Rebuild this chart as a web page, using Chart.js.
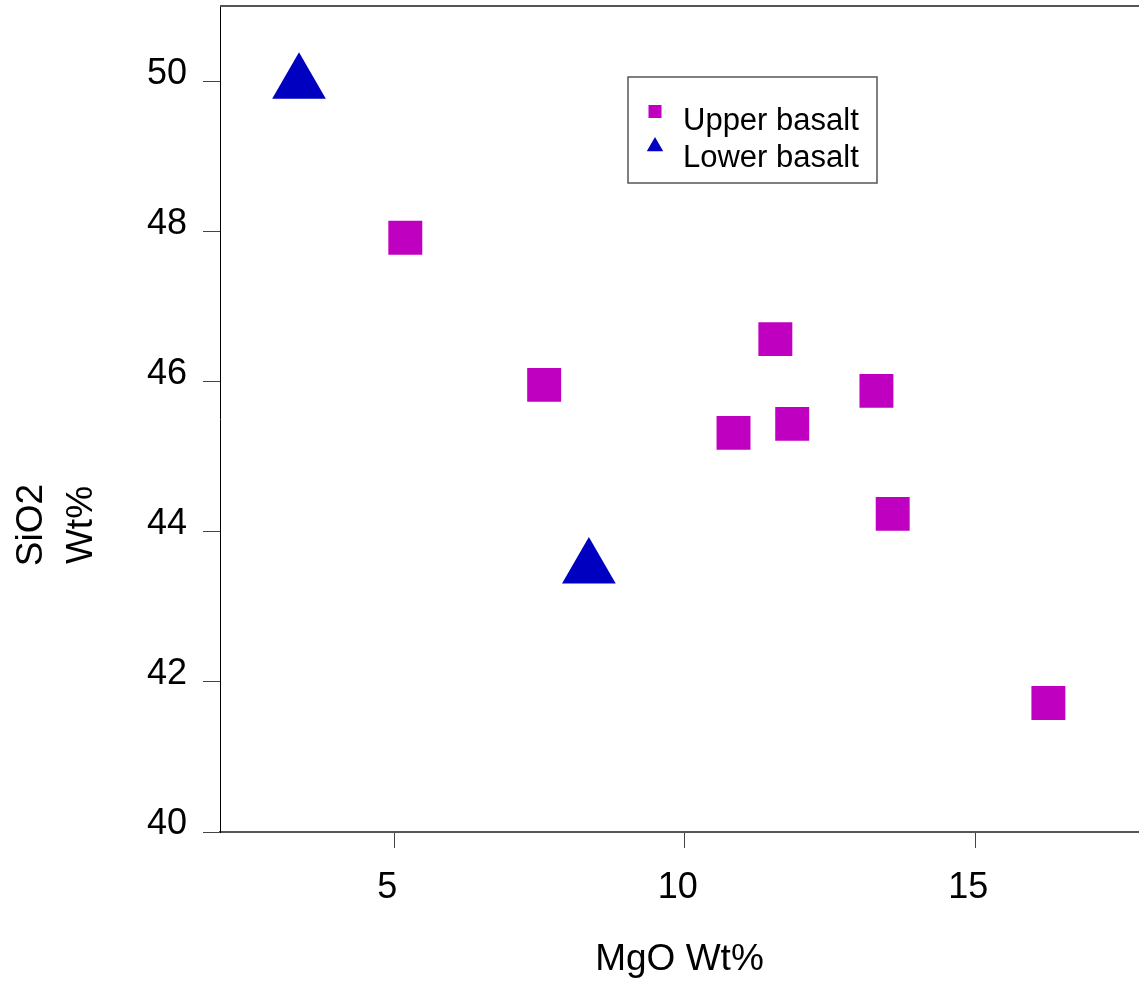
<!DOCTYPE html>
<html>
<head>
<meta charset="utf-8">
<title>SiO2 vs MgO</title>
<script src="https://cdn.jsdelivr.net/npm/chart.js@4.4.1/dist/chart.umd.min.js"></script>
<style>
  html, body { margin:0; padding:0; background:#fff; }
</style>
</head>
<body>
<canvas id="chart" width="1139" height="982"></canvas>
<script>
// —————— DATA ——————
const upperMgO  = [5.19, 7.58, 11.56, 10.84, 11.85, 13.30, 13.58, 16.26];
const upperSiO2 = [47.92, 45.96, 46.57, 45.32, 45.44, 45.88, 44.24, 41.72];
const lowerMgO  = [3.36, 8.35];
const lowerSiO2 = [49.98, 43.52];
const xTicks = [5, 10, 15];
const yTicks = [40, 42, 44, 46, 48, 50];
const seriesNames = ['Upper basalt', 'Lower basalt'];
const xTitle = 'MgO Wt%';
const yTitle = ['SiO2', 'Wt%'];

const FONT = '"Liberation Sans", Arial, Helvetica, sans-serif';
const UPPER_COLOR = '#C000C0';
const LOWER_COLOR = '#0000C0';

function toPoints(xs, ys) {
  return xs.map((x, i) => ({ x: x, y: ys[i] }));
}

// —————— MARKERS (for the legend) ——————
function drawMarker(ctx, style, x, y, r) {
  ctx.beginPath();
  if (style === 'rect') {
    const s = r * Math.SQRT1_2;
    ctx.rect(x - s, y - s, 2 * s, 2 * s);
  } else {
    ctx.moveTo(x, y - r);
    ctx.lineTo(x + r * Math.sin(2 * Math.PI / 3), y + r / 2);
    ctx.lineTo(x - r * Math.sin(2 * Math.PI / 3), y + r / 2);
    ctx.closePath();
  }
  ctx.fill();
}

// —————— FRAME, Y TITLE, LEGEND ——————
const framePlugin = {
  id: 'frame',
  afterDraw(chart) {
    const { ctx, chartArea: a } = chart;
    ctx.save();

    // top border of the plot box
    ctx.strokeStyle = '#555';
    ctx.lineWidth = 2;
    ctx.beginPath();
    ctx.moveTo(a.left, a.top);
    ctx.lineTo(a.right, a.top);
    ctx.stroke();

    // y title, two rotated lines
    ctx.fillStyle = '#000';
    ctx.font = '37px ' + FONT;
    ctx.textAlign = 'center';
    ctx.textBaseline = 'alphabetic';
    ctx.translate(42, 525);
    ctx.rotate(-Math.PI / 2);
    yTitle.forEach((t, i) => ctx.fillText(t, 0, i * 50));
    ctx.setTransform(1, 0, 0, 1, 0, 0);

    // legend box
    ctx.strokeStyle = '#555';
    ctx.lineWidth = 1.5;
    ctx.strokeRect(628, 77, 249, 106);
    const rows = [
      { style: 'rect',     color: UPPER_COLOR, r: 9.2, my: 111.5, ty: 130 },
      { style: 'triangle', color: LOWER_COLOR, r: 9.5, my: 146.5, ty: 167 }
    ];
    ctx.font = '31px ' + FONT;
    ctx.textAlign = 'left';
    rows.forEach((row, i) => {
      ctx.fillStyle = row.color;
      drawMarker(ctx, row.style, 655, row.my, row.r);
      ctx.fillStyle = '#000';
      ctx.fillText(seriesNames[i], 683, row.ty);
    });
    ctx.restore();
  }
};

// —————— CHART ——————
new Chart(document.getElementById('chart'), {
  type: 'scatter',
  data: {
    datasets: [
      {
        label: seriesNames[0],
        data: toPoints(upperMgO, upperSiO2),
        pointStyle: 'rect',
        pointRadius: 24,
        pointHoverRadius: 24,
        backgroundColor: UPPER_COLOR,
        borderWidth: 0
      },
      {
        label: seriesNames[1],
        data: toPoints(lowerMgO, lowerSiO2),
        pointStyle: 'triangle',
        pointRadius: 31,
        pointHoverRadius: 31,
        backgroundColor: LOWER_COLOR,
        borderWidth: 0
      }
    ]
  },
  options: {
    responsive: false,
    animation: false,
    layout: { autoPadding: false, padding: { top: 6, right: 0, bottom: 0, left: 0 } },
    plugins: { legend: { display: false }, tooltip: { enabled: false } },
    scales: {
      x: {
        min: 2, max: 17.82,
        afterBuildTicks: s => { s.ticks = xTicks.map(v => ({ value: v })); },
        afterFit: s => { s.height = 150; s.paddingLeft = 0; s.paddingRight = 0; },
        border: { display: true, color: '#555', width: 2 },
        grid: { drawOnChartArea: false, drawTicks: true, tickLength: 16, color: '#444', lineWidth: 1 },
        ticks: { color: '#000', font: { family: FONT, size: 36 }, padding: 18, labelOffset: -7, maxRotation: 0 },
        title: { display: true, text: xTitle, color: '#000', font: { family: FONT, size: 37 }, padding: { top: 0, bottom: 0 } }
      },
      y: {
        min: 40, max: 51.01,
        afterBuildTicks: s => { s.ticks = yTicks.map(v => ({ value: v })); },
        afterFit: s => { s.width = 220; s.paddingTop = 0; s.paddingBottom = 0; },
        border: { display: true, color: '#000', width: 1 },
        grid: { drawOnChartArea: false, drawTicks: true, tickLength: 17, color: '#444', lineWidth: 1 },
        ticks: { color: '#000', font: { family: FONT, size: 36 }, padding: 16, labelOffset: -8 }
      }
    }
  },
  plugins: [framePlugin]
});
</script>
</body>
</html>
